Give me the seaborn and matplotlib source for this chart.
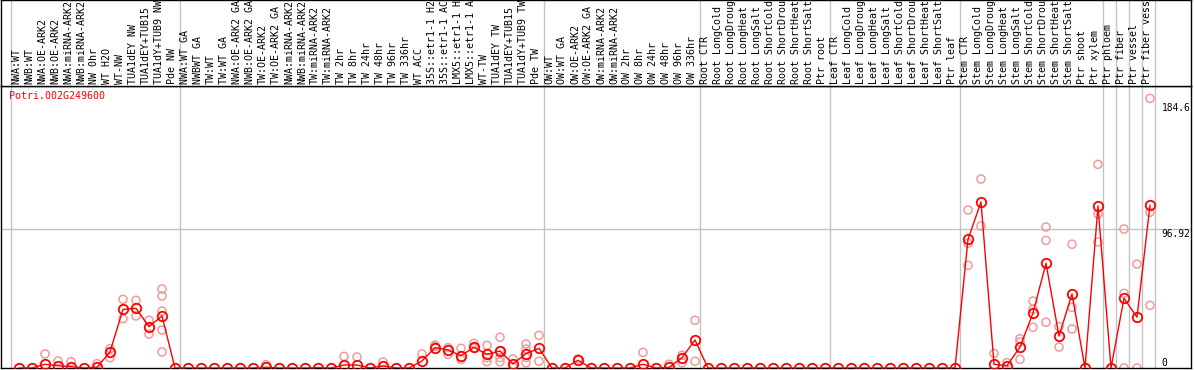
import numpy as np
import pandas as pd
import matplotlib
matplotlib.use("Agg")
import matplotlib.pyplot as plt
import seaborn as sns

# sample labels as they show in the header (long names are cut off at the top)
samples = [
    "NWA:WT", "NWB:WT", "NWA:OE-ARK2", "NWB:OE-ARK2", "NWA:miRNA-ARK2", "NWB:miRNA-ARK2",
    "NW 0hr", "WT H2O", "WT-NW", "TUA1dEY NW", "TUA1dEY+TUB15", "TUA1dY+TUB9 NW", "Pde NW",
    "NWA:WT GA", "NWBWT GA", "TW:WT", "TW:WT GA", "NWA:OE-ARK2 GA", "NWB:OE-ARK2 GA",
    "TW:OE-ARK2", "TW:OE-ARK2 GA", "NWA:miRNA-ARK2", "NWB:miRNA-ARK2", "TW:miRNA-ARK2",
    "TW:miRNA-ARK2", "TW 2hr", "TW 8hr", "TW 24hr", "TW 48hr", "TW 96hr", "TW 336hr",
    "WT ACC", "35S::etr1-1 H2", "35S::etr1-1 AC", "LMX5::etr1-1 H", "LMX5::etr1-1 A",
    "WT-TW", "TUA1dEY TW", "TUA1dEY+TUB15", "TUA1dY+TUB9 TW", "Pde TW",
    "OW:WT", "OW:WT GA", "OW:OE-ARK2", "OW:OE-ARK2 GA", "OW:miRNA-ARK2", "OW:miRNA-ARK2",
    "OW 2hr", "OW 8hr", "OW 24hr", "OW 48hr", "OW 96hr", "OW 336hr",
    "Root CTR", "Root LongCold", "Root LongDroug", "Root LongHeat", "Root LongSalt",
    "Root ShortCold", "Root ShortDrou", "Root ShortHeat", "Root ShortSalt", "Ptr root",
    "Leaf CTR", "Leaf LongCold", "Leaf LongDroug", "Leaf LongHeat", "Leaf LongSalt",
    "Leaf ShortCold", "Leaf ShortDrou", "Leaf ShortHeat", "Leaf ShortSalt", "Ptr leaf",
    "Stem CTR", "Stem LongCold", "Stem LongDroug", "Stem LongHeat", "Stem LongSalt",
    "Stem ShortCold", "Stem ShortDrou", "Stem ShortHeat", "Stem ShortSalt", "Ptr shoot",
    "Ptr xylem", "Ptr phloem", "Ptr fiber", "Ptr vessel", "Ptr fiber vess",
]

# first sample index of each experiment block (a grey separator goes before it)
group_starts = [0, 13, 41, 53, 63, 73, 84, 85, 86, 87, 88]

# mean expression per sample
mean_expr = [
    0, 0, 2.6, 1.6, 0.9, 0, 0.5, 11.2, 40.9, 41.6, 28.8, 36.3, 0,
    0, 0, 0, 0, 0, 0, 0.5, 0, 0, 0, 0.3, 0, 2.1, 2.1, 0, 1.4, 0, 0,
    4.9, 14.2, 12.6, 8.6, 14.4, 9.5, 11.9, 2.8, 10.0, 13.7,
    0, 0, 5.4, 0, 0, 0, 0, 2.6, 0, 0.4, 7.2, 19.5,
    0, 0, 0, 0, 0, 0, 0, 0, 0, 0,
    0, 0, 0, 0, 0, 0, 0, 0, 0, 0,
    89.7, 115.8, 2.6, 1.6, 14.6, 38.4, 73.0, 22.3, 51.6, 0, 113.0,
    0, 48.6, 35.4, 113.5,
]

# individual replicates (only the ones visible off the mean)
replicates = {
    2: [9.8], 3: [4.9], 4: [4.4], 6: [3.0], 7: [13.5, 7.2],
    8: [47.9, 34.4], 9: [47.2, 36.3], 10: [33.3, 23.7],
    11: [55.1, 50.2, 39.7, 26.5, 11.2],
    19: [2.3], 25: [8.1], 26: [7.7], 28: [4.2], 31: [9.8],
    32: [16.0, 15.0], 33: [14.2, 9.5], 34: [13.7, 6.0], 35: [17.2, 14.0],
    36: [15.8, 7.2, 4.4], 37: [21.4, 11.9, 7.2, 4.4], 38: [6.3, 1.0],
    39: [16.7, 13.2, 7.4, 3.7], 40: [22.8, 4.7],
    43: [6.3], 48: [10.9], 50: [2.6], 51: [8.9, 3.7], 52: [33.3, 4.7],
    73: [110.2, 87.0, 71.6], 74: [131.8, 99.0], 75: [10.2], 76: [3.7],
    77: [20.4, 18.1, 6.0], 78: [46.7, 40.9, 28.4], 79: [98.3, 89.0, 31.9],
    80: [28.8, 14.6], 81: [86.3, 42.3, 27.2], 83: [142.0, 107.4, 87.9],
    85: [96.9, 52.1, 0], 86: [72.5, 0], 87: [188.0, 108.6, 43.7],
}

gene_id = "Potri.002G249600"
y_marks = [184.6, 96.92, 0]

df_mean = pd.DataFrame({"pos": np.arange(len(samples)), "expr": mean_expr})
df_rep = pd.DataFrame(
    [(k, v) for k, vals in replicates.items() for v in vals], columns=["pos", "expr"]
)

sns.set_style("white")
mono = "DejaVu Sans Mono"
grey = "#c4c4c4"

W, H = 1194, 370
fig = plt.figure(figsize=(W / 100, H / 100), dpi=100)
ax = fig.add_axes([1 / W, 2 / H, 1190 / W, 282 / H])
ax_lab = fig.add_axes([1 / W, 284 / H, 1190 / W, 86 / H], sharex=ax)

xlim = ((1 - 19) / 13, (1191 - 19) / 13)
ax.set_xlim(*xlim)
ax.set_ylim(0, 282 / 1.434)
ax_lab.set_ylim(0, 1)

for a in (ax, ax_lab):
    for b in group_starts:
        a.axvline(b - 0.615, color=grey, lw=1.0, zorder=0)
    for s in a.spines.values():
        s.set_color("black")
        s.set_linewidth(1.0)
    a.set_xticks([])
    a.set_yticks([])
    a.set_xlabel("")
    a.set_ylabel("")

ax.axhline(96.92, color=grey, lw=1.0, zorder=0)

# replicates first, mean line on top
sns.scatterplot(data=df_rep, x="pos", y="expr", ax=ax, marker="o", s=34,
                color="#f29a9a", facecolor="none", edgecolor="#f29a9a",
                linewidth=1.1, zorder=2, legend=False)
sns.lineplot(data=df_mean, x="pos", y="expr", ax=ax, estimator=None,
             color="#ff0000", lw=1.0, marker="o", markersize=6.8,
             markerfacecolor="none", markeredgecolor="#ff0000",
             markeredgewidth=1.3, zorder=3, legend=False)
ax.set_xlabel("")
ax.set_ylabel("")
ax.set_xlim(*xlim)

for v in y_marks:
    ax.text(87.9, v, f"{v:g}", ha="left", va="bottom" if v == 0 else "top",
            fontsize=6.9, family=mono, color="black", clip_on=True)

ax.text(8 / 1190, 1 - 10 / 282, gene_id, transform=ax.transAxes, ha="left",
        va="center", fontsize=7.2, family=mono, color="#ff0000")

for i, name in enumerate(samples):
    ax_lab.text(i - 0.23, 1.5 / 86, name, rotation=90, ha="center", va="bottom",
                fontsize=7.2, family=mono, color="black", clip_on=True)

fig.savefig("out.png", dpi=100)
